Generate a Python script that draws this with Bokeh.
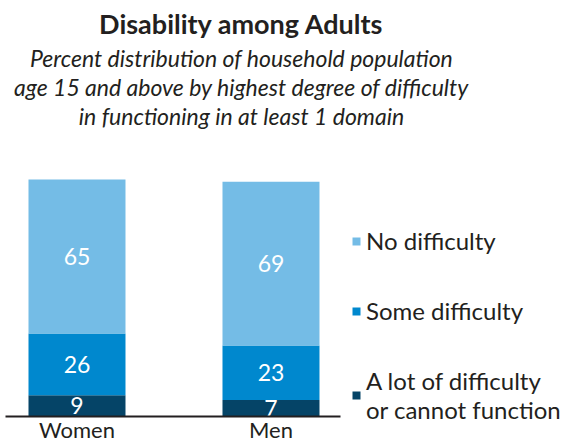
from bokeh.plotting import figure
from bokeh.models import (Range1d, FixedTicker, Label, Legend, LegendItem, ColumnDataSource)
from bokeh.core.properties import value
from bokeh.embed import file_html
from bokeh.resources import INLINE

# ---- data ----
categories = ["Women", "Men"]
lot_of_difficulty = [9, 7]
some_difficulty = [26, 23]
no_difficulty = [65, 69]
series_names = ["No difficulty", "Some difficulty", "A lot of difficulty\nor cannot function"]
colors = {"lot": "#054467", "some": "#0088CE", "none": "#74BCE6"}

title_text = "Disability among Adults"
subtitle_lines = [
    "Percent distribution of household population",
    "age 15 and above by highest degree of difficulty",
    "in functioning in at least 1 domain",
]

FONT = "Lato"
TXT = "#231F20"
W, H = 574, 445

xs = list(range(len(categories)))
src = ColumnDataSource(dict(x=xs, cat=categories, lot=lot_of_difficulty,
                            some=some_difficulty, none=no_difficulty))

p = figure(width=W, height=H, output_backend="svg", toolbar_location=None,
           x_range=Range1d(-0.3943, 2.5645), y_range=Range1d(-12.24, 175.53),
           y_axis_type=None, min_border_left=0, min_border_right=0,
           min_border_top=0, min_border_bottom=0)
p.title = None
p.outline_line_color = None
p.grid.visible = False
p.background_fill_color = "white"
p.border_fill_color = "white"

rs = p.vbar_stack(["lot", "some", "none"], x="x", width=0.5, source=src,
                  color=[colors["lot"], colors["some"], colors["none"]], line_width=0)

# value labels at segment midpoints
mid_lot = [v / 2 for v in lot_of_difficulty]
mid_some = [a + b / 2 for a, b in zip(lot_of_difficulty, some_difficulty)]
mid_none = [a + b + c / 2 for a, b, c in zip(lot_of_difficulty, some_difficulty, no_difficulty)]
lx, ly, lt = [], [], []
for i in xs:
    lx += [i, i, i]
    ly += [mid_lot[i], mid_some[i], mid_none[i]]
    lt += [str(lot_of_difficulty[i]), str(some_difficulty[i]), str(no_difficulty[i])]
p.text(x=lx, y=ly, text=lt, text_color="white", text_font=value(FONT),
       text_font_size="23px", text_align="center", text_baseline="middle")

# x axis drawn at the zero baseline
ax = p.xaxis[0]
ax.fixed_location = 0
ax.ticker = FixedTicker(ticks=xs)
ax.bounds = (-0.3686, 1.3582)
ax.major_label_overrides = {i: c for i, c in enumerate(categories)}
ax.major_tick_line_color = None
ax.major_tick_out = 0
ax.major_tick_in = 0
ax.minor_tick_line_color = None
ax.axis_line_color = TXT
ax.axis_line_width = 2
ax.major_label_text_font = FONT
ax.major_label_text_font_size = "22px"
ax.major_label_text_color = TXT
ax.major_label_standoff = 0

# legend (bottom-left corner given from frame bottom-left)
legend = Legend(items=[
    LegendItem(label=series_names[0], renderers=[rs[2]]),
    LegendItem(label=series_names[1], renderers=[rs[1]]),
    LegendItem(label=series_names[2], renderers=[rs[0]]),
], location=(351, 21))
legend.border_line_color = None
legend.background_fill_alpha = 0
legend.glyph_width = 10
legend.glyph_height = 10
legend.label_text_font = FONT
legend.label_text_font_size = "24px"
legend.label_text_color = TXT
legend.label_standoff = 5
legend.spacing = 41
legend.padding = 0
legend.margin = 0
p.add_layout(legend)

# titles
p.add_layout(Label(x=241, y=H - 23, x_units="screen", y_units="screen", text=title_text,
                   text_font=FONT, text_font_size="27px", text_font_style="bold",
                   text_color=TXT, text_align="center", text_baseline="alphabetic"))
for line, base in zip(subtitle_lines, [57, 86, 115]):
    p.add_layout(Label(x=241, y=H - base, x_units="screen", y_units="screen", text=line,
                       text_font=FONT, text_font_size="23px", text_font_style="italic",
                       text_color=TXT, text_align="center", text_baseline="alphabetic"))

open("out.html", "w").write(file_html(p, INLINE))
